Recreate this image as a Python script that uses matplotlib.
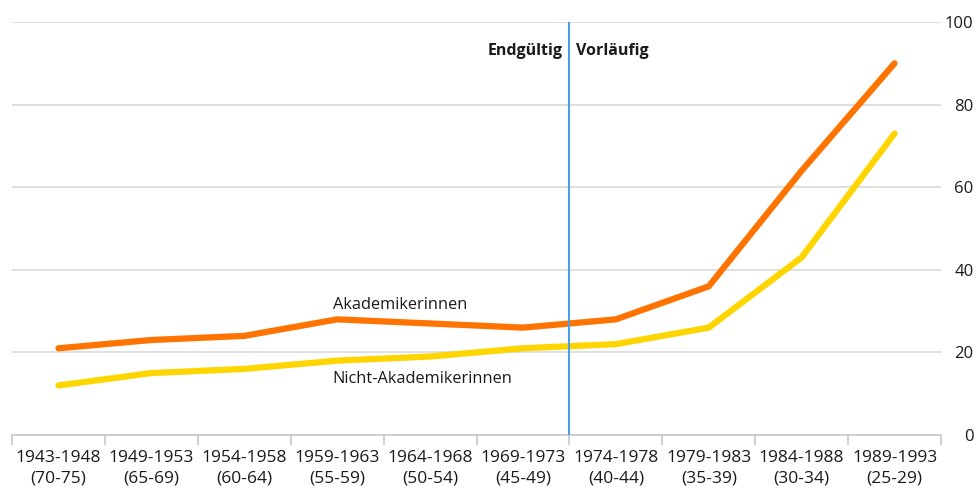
import matplotlib.pyplot as plt
import numpy as np

plt.rcParams['font.family'] = ['Open Sans', 'DejaVu Sans']

# Daten
kohorten = ['1943-1948\n(70-75)', '1949-1953\n(65-69)', '1954-1958\n(60-64)',
            '1959-1963\n(55-59)', '1964-1968\n(50-54)', '1969-1973\n(45-49)',
            '1974-1978\n(40-44)', '1979-1983\n(35-39)', '1984-1988\n(30-34)',
            '1989-1993\n(25-29)']
akademikerinnen = [21, 23, 24, 28, 27, 26, 28, 36, 64, 90]
nicht_akademikerinnen = [12, 15, 16, 18, 19, 21, 22, 26, 43, 73]
yticks = [0, 20, 40, 60, 80, 100]

fig = plt.figure(figsize=(9.76, 4.91), dpi=100)
ax = fig.add_axes([12/976, 1 - 435/491, 929/976, 413/491])

x = np.arange(len(kohorten))
ax.plot(x, akademikerinnen, color='#ff7300', lw=4.5, solid_capstyle='round', zorder=3)
ax.plot(x, nicht_akademikerinnen, color='#ffd500', lw=4.5, solid_capstyle='round', zorder=3)

# Trennlinie endgültig / vorläufig
ax.axvline(5.5, color='#4a9ee8', lw=1.5, zorder=4)
ax.text(5.43, 93, 'Endgültig', ha='right', va='center', fontsize=11.5, fontweight='bold', color='#1a1a1a')
ax.text(5.57, 93, 'Vorläufig', ha='left', va='center', fontsize=11.5, fontweight='bold', color='#1a1a1a')

ax.text(2.95, 31.5, 'Akademikerinnen', ha='left', va='center', fontsize=11.8, color='#1a1a1a')
ax.text(2.95, 13.5, 'Nicht-Akademikerinnen', ha='left', va='center', fontsize=11.8, color='#1a1a1a')

ax.set_xlim(-0.5, 9.5)
ax.set_ylim(0, 100)
ax.set_yticks(yticks)
ax.set_yticklabels([str(v) for v in yticks], ha='right')
ax.yaxis.tick_right()
ax.tick_params(axis='y', length=0, pad=23.5, labelsize=12, labelcolor='#1a1a1a')
ax.grid(axis='y', color='#d9d9d9', lw=1.2, zorder=0)

ax.set_xticks(x)
ax.set_xticklabels(kohorten, linespacing=1.35)
ax.set_xticks(np.arange(-0.5, 10, 1), minor=True)
ax.tick_params(axis='x', which='major', length=0, pad=11, labelsize=12.5, labelcolor='#1a1a1a')
ax.tick_params(axis='x', which='minor', length=7, width=1.2, color='#c8c8c8')

for s in ['top', 'left', 'right']:
    ax.spines[s].set_visible(False)
ax.spines['bottom'].set_color('#c8c8c8')
ax.spines['bottom'].set_linewidth(1.2)

plt.savefig('out.png', dpi=100)
